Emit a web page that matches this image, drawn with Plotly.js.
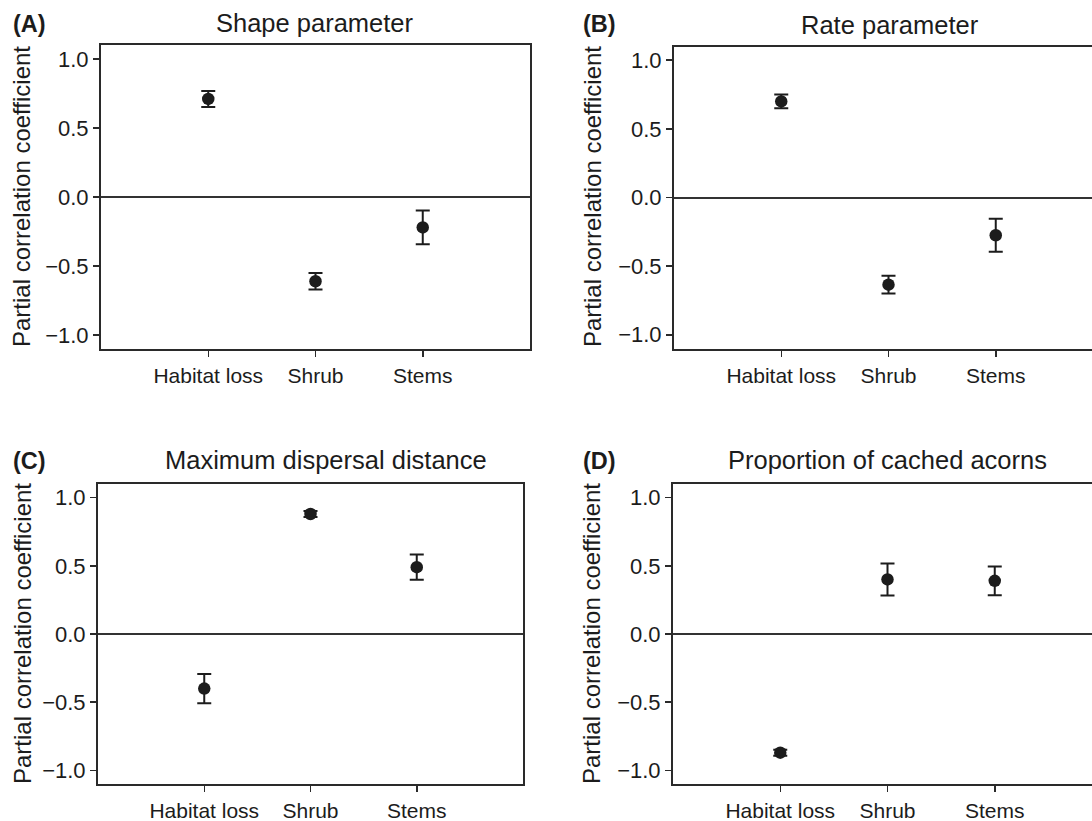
<!DOCTYPE html>
<html>
<head>
<meta charset="utf-8">
<script src="https://cdn.plot.ly/plotly-3.0.1.min.js"></script>
<style>html,body{margin:0;padding:0;background:#fff;overflow:hidden;}#chart{width:1092px;height:821px;}</style>
</head>
<body>
<div id="chart"></div>
<script>
// ---- data ----
const categories = ["Habitat loss", "Shrub", "Stems"];
const shapeValues = [0.71, -0.61, -0.22];
const shapeErrors = [0.058, 0.06, 0.122];
const rateValues = [0.70, -0.635, -0.275];
const rateErrors = [0.05, 0.065, 0.12];
const dispersalValues = [-0.40, 0.88, 0.49];
const dispersalErrors = [0.107, 0.022, 0.093];
const cachedValues = [-0.87, 0.40, 0.39];
const cachedErrors = [0.022, 0.117, 0.105];
const panelTitles = ["Shape parameter", "Rate parameter", "Maximum dispersal distance", "Proportion of cached acorns"];
const panelLetters = ["(A)", "(B)", "(C)", "(D)"];
const yTitle = "Partial correlation coefficient";
const yTickVals = [-1, -0.5, 0, 0.5, 1];
const yTickText = ["\u22121.0", "\u22120.5", "0.0", "0.5", "1.0"];

const W = 1092, H = 821;
const FONT = "Liberation Sans, Arial, Helvetica, sans-serif";
const INK = "#1c1c1c";
const px = v => v / W;
const py = v => 1 - v / H;

function trace(vals, errs, xa, ya) {
  return {
    type: "scatter", mode: "markers",
    x: categories, y: vals, xaxis: xa, yaxis: ya,
    marker: {size: 12.5, color: INK},
    error_y: {type: "data", array: errs, visible: true, thickness: 2, width: 7, color: INK},
    hoverinfo: "skip", showlegend: false
  };
}

const data = [
  trace(shapeValues, shapeErrors, "x", "y"),
  trace(rateValues, rateErrors, "x2", "y2"),
  trace(dispersalValues, dispersalErrors, "x3", "y3"),
  trace(cachedValues, cachedErrors, "x4", "y4")
];

function xAxis(domain, range, anchor) {
  return {
    domain: domain, range: range, anchor: anchor, type: "category",
    showline: true, linecolor: "#2a2a2a", linewidth: 2, mirror: true,
    ticks: "outside", ticklen: 6, tickwidth: 1.5, tickcolor: "#2a2a2a",
    showgrid: false, zeroline: false, ticklabelstandoff: 1,
    tickfont: {family: FONT, size: 21, color: INK}, fixedrange: true
  };
}
function yAxis(domain, anchor, mirror) {
  return {
    domain: domain, range: [-1.1, 1.1], anchor: anchor,
    tickvals: yTickVals, ticktext: yTickText,
    showline: true, linecolor: "#2a2a2a", linewidth: 2, mirror: mirror,
    ticks: "outside", ticklen: 6, tickwidth: 1.5, tickcolor: "#2a2a2a",
    showgrid: false, zeroline: true, zerolinecolor: "#333", zerolinewidth: 2,
    tickfont: {family: FONT, size: 22, color: INK}, fixedrange: true
  };
}

const unit = 107.25;
const layout = {
  width: W, height: H,
  margin: {l: 0, r: 0, t: 0, b: 0},
  paper_bgcolor: "#fff", plot_bgcolor: "#fff",
  showlegend: false,
  xaxis: xAxis([px(101), px(530)], [-1, 3], "y"),
  yaxis: yAxis([py(349), py(45)], "x", true),
  xaxis2: xAxis([px(674), 1], [-1, -1 + (W - 674) / unit], "y2"),
  yaxis2: yAxis([py(348.5), py(46.5)], "x2", false),
  xaxis3: xAxis([px(98), px(523)], [-1, 3], "y3"),
  yaxis3: yAxis([py(784), py(484)], "x3", true),
  xaxis4: xAxis([px(673), 1], [-1, -1 + (W - 673) / unit], "y4"),
  yaxis4: yAxis([py(784), py(484)], "x4", false),
  annotations: []
};

const titlePos = [[315, 23], [890, 25], [326, 460], [887, 460]];
const letterPos = [[11, 24], [581, 24], [11, 461], [581, 461]];
const yTitlePos = [[22, 197], [593, 197], [22, 634], [591, 634]];
for (let i = 0; i < 4; i++) {
  layout.annotations.push({
    xref: "paper", yref: "paper", x: px(titlePos[i][0]), y: py(titlePos[i][1]),
    xanchor: "center", yanchor: "middle", showarrow: false,
    text: panelTitles[i], font: {family: FONT, size: 25.5, color: INK}
  });
  layout.annotations.push({
    xref: "paper", yref: "paper", x: px(letterPos[i][0]), y: py(letterPos[i][1]),
    xanchor: "left", yanchor: "middle", showarrow: false,
    text: "<b>" + panelLetters[i] + "</b>", font: {family: FONT, size: 23.5, color: INK}
  });
  layout.annotations.push({
    xref: "paper", yref: "paper", x: px(yTitlePos[i][0]), y: py(yTitlePos[i][1]),
    xanchor: "center", yanchor: "middle", showarrow: false, textangle: -90,
    text: yTitle, font: {family: FONT, size: 24, color: INK}
  });
}

Plotly.newPlot("chart", data, layout, {displayModeBar: false, staticPlot: true});
</script>
</body>
</html>
